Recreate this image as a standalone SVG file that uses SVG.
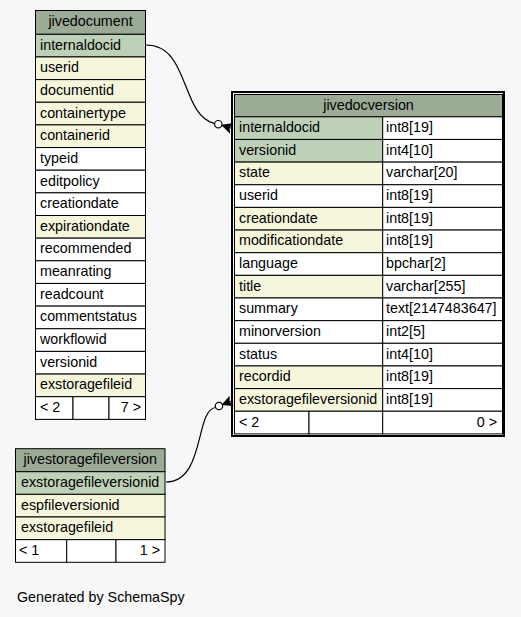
<svg xmlns="http://www.w3.org/2000/svg" width="521" height="617" viewBox="0 0 521 617">
<style>
text{font-family:"Liberation Sans",Arial,Helvetica,sans-serif;font-size:14.3px;fill:#000}
.h{fill:#9bab96;stroke:#000;stroke-width:1}
.pk{fill:#bed1b8;stroke:#000;stroke-width:1}
.ix{fill:#f5f6dc;stroke:#000;stroke-width:1}
.w{fill:#ffffff;stroke:#000;stroke-width:1}
.c{text-anchor:middle}
.r{text-anchor:end}
.edge{fill:none;stroke:#000;stroke-width:1.2}
.dot{fill:#ffffff;stroke:#000;stroke-width:1.2}
.crow{fill:#000;stroke:#000;stroke-width:1}
</style>
<rect width="521" height="617" fill="#f7f7f7"/>

<g id="connectors">
<path class="edge" d="M146,45 C190,45 180,115 214.6,123.6"/>
<circle class="dot" cx="218.3" cy="124.2" r="3.7"/>
<g transform="translate(222.3,125.3) rotate(18)"><polygon class="crow" points="0,0 9,-4.5 7,0 9,4.5"/><line x1="0" y1="0" x2="9" y2="0" stroke="#000"/></g>
<path class="edge" d="M166,482 C205,482 195,410 215.5,407.5"/>
<circle class="dot" cx="219" cy="406" r="3.7"/>
<g transform="translate(222.5,404.6) rotate(-22)"><polygon class="crow" points="0,0 9,-4.5 7,0 9,4.5"/><line x1="0" y1="0" x2="9" y2="0" stroke="#000"/></g>
</g>

<g id="jivedocument">
<rect x="35.5" y="10.5" width="110" height="408.85" fill="none" stroke="#000" stroke-width="1"/>
<rect class="h" x="35.5" y="10.5" width="110" height="23.8"/>
<text class="c" x="90.5" y="26">jivedocument</text>
<rect class="pk" x="35.5" y="34.3" width="110" height="22.65"/><text x="40" y="49.6">internaldocid</text>
<rect class="ix" x="35.5" y="56.95" width="110" height="22.65"/><text x="40" y="72.25">userid</text>
<rect class="ix" x="35.5" y="79.6" width="110" height="22.65"/><text x="40" y="94.9">documentid</text>
<rect class="ix" x="35.5" y="102.25" width="110" height="22.65"/><text x="40" y="117.55">containertype</text>
<rect class="ix" x="35.5" y="124.9" width="110" height="22.65"/><text x="40" y="140.2">containerid</text>
<rect class="w" x="35.5" y="147.55" width="110" height="22.65"/><text x="40" y="162.85">typeid</text>
<rect class="w" x="35.5" y="170.2" width="110" height="22.65"/><text x="40" y="185.5">editpolicy</text>
<rect class="w" x="35.5" y="192.85" width="110" height="22.65"/><text x="40" y="208.15">creationdate</text>
<rect class="ix" x="35.5" y="215.5" width="110" height="22.65"/><text x="40" y="230.8">expirationdate</text>
<rect class="w" x="35.5" y="238.15" width="110" height="22.65"/><text x="40" y="253.45">recommended</text>
<rect class="w" x="35.5" y="260.8" width="110" height="22.65"/><text x="40" y="276.1">meanrating</text>
<rect class="w" x="35.5" y="283.45" width="110" height="22.65"/><text x="40" y="298.75">readcount</text>
<rect class="w" x="35.5" y="306.1" width="110" height="22.65"/><text x="40" y="321.4">commentstatus</text>
<rect class="w" x="35.5" y="328.75" width="110" height="22.65"/><text x="40" y="344.05">workflowid</text>
<rect class="w" x="35.5" y="351.4" width="110" height="22.65"/><text x="40" y="366.7">versionid</text>
<rect class="ix" x="35.5" y="374.05" width="110" height="22.65"/><text x="40" y="389.35">exstoragefileid</text>
<rect class="w" x="35.5" y="396.7" width="37.5" height="22.65"/>
<rect class="w" x="73" y="396.7" width="36" height="22.65"/>
<rect class="w" x="109" y="396.7" width="36.5" height="22.65"/>
<text x="40" y="412">&lt; 2</text><text class="r" x="141" y="412">7 &gt;</text>
</g>

<g id="jivedocversion">
<rect x="232" y="92" width="272" height="344" fill="none" stroke="#000" stroke-width="2"/>
<rect class="h" x="234.5" y="94.5" width="268" height="22.3"/>
<text class="c" x="368.5" y="110">jivedocversion</text>
<rect class="pk" x="234.5" y="116.8" width="148.2" height="22.65"/><rect class="w" x="382.7" y="116.8" width="119.8" height="22.65"/><text x="239" y="132.1">internaldocid</text><text x="386" y="132.1">int8[19]</text>
<rect class="pk" x="234.5" y="139.45" width="148.2" height="22.65"/><rect class="w" x="382.7" y="139.45" width="119.8" height="22.65"/><text x="239" y="154.75">versionid</text><text x="386" y="154.75">int4[10]</text>
<rect class="ix" x="234.5" y="162.1" width="148.2" height="22.65"/><rect class="w" x="382.7" y="162.1" width="119.8" height="22.65"/><text x="239" y="177.4">state</text><text x="386" y="177.4">varchar[20]</text>
<rect class="w" x="234.5" y="184.75" width="148.2" height="22.65"/><rect class="w" x="382.7" y="184.75" width="119.8" height="22.65"/><text x="239" y="200.05">userid</text><text x="386" y="200.05">int8[19]</text>
<rect class="ix" x="234.5" y="207.4" width="148.2" height="22.65"/><rect class="w" x="382.7" y="207.4" width="119.8" height="22.65"/><text x="239" y="222.7">creationdate</text><text x="386" y="222.7">int8[19]</text>
<rect class="ix" x="234.5" y="230.05" width="148.2" height="22.65"/><rect class="w" x="382.7" y="230.05" width="119.8" height="22.65"/><text x="239" y="245.35">modificationdate</text><text x="386" y="245.35">int8[19]</text>
<rect class="w" x="234.5" y="252.7" width="148.2" height="22.65"/><rect class="w" x="382.7" y="252.7" width="119.8" height="22.65"/><text x="239" y="268">language</text><text x="386" y="268">bpchar[2]</text>
<rect class="ix" x="234.5" y="275.35" width="148.2" height="22.65"/><rect class="w" x="382.7" y="275.35" width="119.8" height="22.65"/><text x="239" y="290.65">title</text><text x="386" y="290.65">varchar[255]</text>
<rect class="w" x="234.5" y="298" width="148.2" height="22.65"/><rect class="w" x="382.7" y="298" width="119.8" height="22.65"/><text x="239" y="313.3">summary</text><text x="386" y="313.3">text[2147483647]</text>
<rect class="w" x="234.5" y="320.65" width="148.2" height="22.65"/><rect class="w" x="382.7" y="320.65" width="119.8" height="22.65"/><text x="239" y="335.95">minorversion</text><text x="386" y="335.95">int2[5]</text>
<rect class="w" x="234.5" y="343.3" width="148.2" height="22.65"/><rect class="w" x="382.7" y="343.3" width="119.8" height="22.65"/><text x="239" y="358.6">status</text><text x="386" y="358.6">int4[10]</text>
<rect class="ix" x="234.5" y="365.95" width="148.2" height="22.65"/><rect class="w" x="382.7" y="365.95" width="119.8" height="22.65"/><text x="239" y="381.25">recordid</text><text x="386" y="381.25">int8[19]</text>
<rect class="ix" x="234.5" y="388.6" width="148.2" height="22.65"/><rect class="w" x="382.7" y="388.6" width="119.8" height="22.65"/><text x="239" y="403.9">exstoragefileversionid</text><text x="386" y="403.9">int8[19]</text>
<rect class="w" x="234.5" y="411.25" width="74.5" height="22.65"/>
<rect class="w" x="309" y="411.25" width="73.7" height="22.65"/>
<rect class="w" x="382.7" y="411.25" width="119.8" height="22.65"/>
<text x="239" y="426.55">&lt; 2</text><text class="r" x="497" y="426.55">0 &gt;</text>
</g>

<g id="jivestoragefileversion">
<rect class="h" x="15.5" y="448.7" width="149.5" height="23"/>
<text class="c" x="90.25" y="464">jivestoragefileversion</text>
<rect class="pk" x="15.5" y="471.7" width="149.5" height="22.65"/><text x="21" y="487">exstoragefileversionid</text>
<rect class="ix" x="15.5" y="494.35" width="149.5" height="22.65"/><text x="21" y="509.65">espfileversionid</text>
<rect class="ix" x="15.5" y="517" width="149.5" height="22.65"/><text x="21" y="532.3">exstoragefileid</text>
<rect class="w" x="15.5" y="539.65" width="51.2" height="22.65"/>
<rect class="w" x="66.7" y="539.65" width="49.3" height="22.65"/>
<rect class="w" x="116" y="539.65" width="49" height="22.65"/>
<text x="19" y="554.95">&lt; 1</text><text class="r" x="160" y="554.95">1 &gt;</text>
</g>

<text x="17" y="602">Generated by SchemaSpy</text>
</svg>
